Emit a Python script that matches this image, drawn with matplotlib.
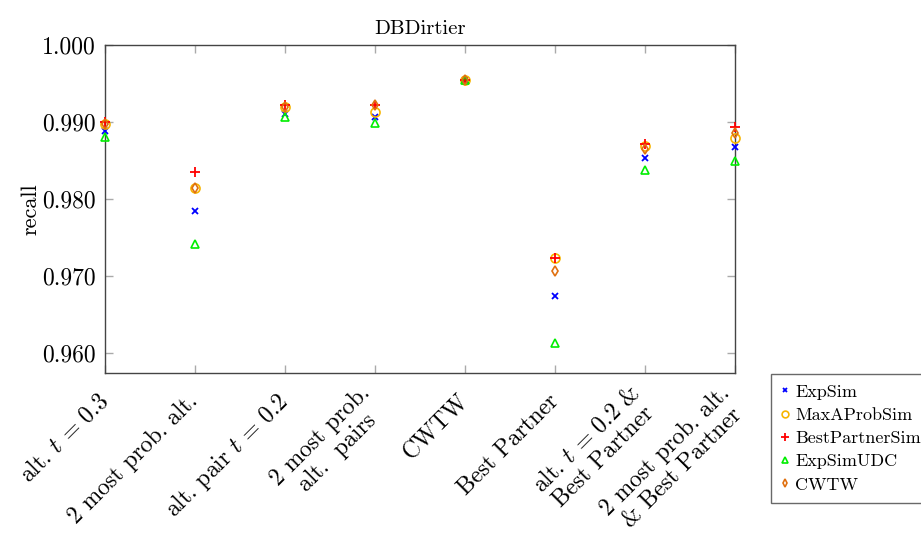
import matplotlib
matplotlib.use("Agg")
import matplotlib.pyplot as plt

plt.rcParams["font.family"] = ["cmr10", "DejaVu Serif"]
plt.rcParams["mathtext.fontset"] = "cm"
plt.rcParams["axes.formatter.use_mathtext"] = True

categories = [
    "alt. $t\\,=\\,0.3$",
    "2 most prob. alt.",
    "alt. pair $t\\,=\\,0.2$",
    "2 most prob.\nalt.  pairs",
    "CWTW",
    "Best Partner",
    "alt. $t\\,=\\,0.2$ &\nBest Partner",
    "2 most prob. alt.\n& Best Partner",
]

exp_sim = [0.9888, 0.9785, 0.9911, 0.9906, 0.9955, 0.9674, 0.9853, 0.9868]
max_a_prob_sim = [0.9898, 0.9814, 0.9920, 0.9913, 0.9955, 0.9723, 0.9869, 0.9879]
best_partner_sim = [0.9900, 0.9835, 0.9922, 0.9922, 0.9955, 0.9723, 0.9872, 0.9893]
exp_sim_udc = [0.9880, 0.9742, 0.9906, 0.9899, 0.9955, 0.9613, 0.9838, 0.9850]
cwtw = [0.9898, 0.9814, 0.9920, 0.9922, 0.9955, 0.9707, 0.9865, 0.9886]

yticks = [0.960, 0.970, 0.980, 0.990, 1.000]

fig = plt.figure(figsize=(9.21, 5.36), dpi=100)
ax = fig.add_axes([0.114, 0.304, 0.684, 0.612])

x = list(range(len(categories)))
common = dict(ls="none", clip_on=False, zorder=3)
ax.plot(x, exp_sim, marker="x", color="#0000FF", ms=4.5, mew=1.3, label="ExpSim", **common)
ax.plot(x, max_a_prob_sim, marker="o", mfc="none", mec="#F7B500", ms=6.5, mew=1.2, label="MaxAProbSim", **common)
ax.plot(x, best_partner_sim, marker="+", color="#FF0000", ms=7, mew=1.3, label="BestPartnerSim", **common)
ax.plot(x, exp_sim_udc, marker="^", mfc="none", mec="#00EE00", ms=6, mew=1.2, label="ExpSimUDC", **common)
ax.plot(x, cwtw, marker="d", mfc="none", mec="#E07010", ms=5.5, mew=1.2, label="CWTW", **common)

ax.set_xlim(0, len(categories) - 1)
ax.set_ylim(0.9574, 1.0)
ax.set_yticks(yticks)
ax.set_yticklabels([f"{v:.3f}" for v in yticks])
ax.set_xticks(x)
ax.set_xticklabels(categories, rotation=45, ha="right", va="center",
                   rotation_mode="anchor", multialignment="center",
                   linespacing=1.12)

ax.tick_params(axis="both", direction="in", length=6, width=1.0, color="#aaaaaa",
               labelsize=17, top=True, right=True)
ax.tick_params(axis="x", pad=18)
ax.tick_params(axis="y", pad=7)
for s in ax.spines.values():
    s.set_color("#444444")
    s.set_linewidth(1.0)

ax.set_title("DBDirtier", fontsize=15, pad=8)
ax.set_ylabel("recall", fontsize=16, labelpad=1)

leg = ax.legend(loc="upper left", bbox_to_anchor=(0.837, 0.302),
                bbox_transform=fig.transFigure, fontsize=13, frameon=True,
                fancybox=False, edgecolor="#444444", handlelength=0.5,
                handletextpad=0.3, borderpad=0.55, labelspacing=0.42,
                borderaxespad=0, markerscale=0.75)
leg.get_frame().set_linewidth(1.0)

fig.savefig("out.png", dpi=100)
